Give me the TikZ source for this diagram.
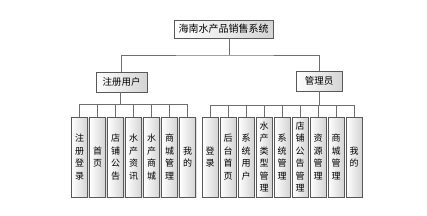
\documentclass[tikz,border=0pt]{standalone}
\usepackage{fontspec}
\setmainfont{Noto Sans CJK SC}
\usetikzlibrary{shadows}

\begin{document}
\begin{tikzpicture}[x=1pt, y=-1pt]
    \definecolor{borderColour}{HTML}{595959}
    \definecolor{fillColour}{HTML}{D4D4D4}
    \definecolor{linkColour}{HTML}{6E6E6E}

    \tikzset{
        box/.style={draw=borderColour, line width=0.8pt, left color=white, right color=fillColour,
            drop shadow={shadow xshift=1.2pt, shadow yshift=-1.2pt, fill=black!25}, inner sep=0pt},
        topbox/.style={box, minimum width=99, minimum height=18, font=\fontsize{10}{12}\selectfont},
        midbox/.style={box, minimum height=20, font=\fontsize{9.5}{12}\selectfont},
        leafbox/.style={box, minimum width=16, minimum height=80, align=center,
            font=\fontsize{9}{12.5}\selectfont},
        link/.style={draw=linkColour, line width=0.9pt}
    }

    \useasboundingbox (0,0) rectangle (427,215);

    % Root
    \node[topbox] (root) at (223.5,29) {海南水产品销售系统};
    \coordinate (rootBus) at (229,55);

    % Second level
    \node[midbox, minimum width=51] (user) at (121.5,82) {注册用户};
    \node[midbox, minimum width=46] (admin) at (319,81) {管理员};
    \coordinate (userBus) at (120,104);
    \coordinate (adminBus) at (319,105);

    % Leaves: user
    \foreach \name [count=\i from 0] in {{注\\册\\登\\录},{首\\页},{店\\铺\\公\\告},{水\\产\\资\\讯},
            {水\\产\\商\\城},{商\\城\\管\\理},{我\\的}}
        \node[leafbox] (u\i) at (79.5+18*\i,157) {\name};

    % Leaves: admin
    \foreach \name [count=\i from 0] in {{登\\录},{后\\台\\首\\页},{系\\统\\用\\户},{水\\产\\类\\型\\管\\理},
            {系\\统\\管\\理},{店\\铺\\公\\告\\管\\理},{资\\源\\管\\理},{商\\城\\管\\理},{我\\的}}
        \node[leafbox] (a\i) at (210+18*\i,157) {\name};

    % Links
    \draw[link] (rootBus |- root.south) -- (rootBus);
    \draw[link] (user.north) |- (rootBus) -| (admin.north);

    \draw[link] (user.south -| userBus) -- (userBus);
    \draw[link] (u0.north |- userBus) -- (u6.north |- userBus);
    \foreach \i in {0,...,6}
        \draw[link] (u\i.north |- userBus) -- (u\i.north);

    \draw[link] (admin.south) -- (adminBus);
    \draw[link] (a0.north |- adminBus) -- (a8.north |- adminBus);
    \foreach \i in {0,...,8}
        \draw[link] (a\i.north |- adminBus) -- (a\i.north);

\end{tikzpicture}
\end{document}
